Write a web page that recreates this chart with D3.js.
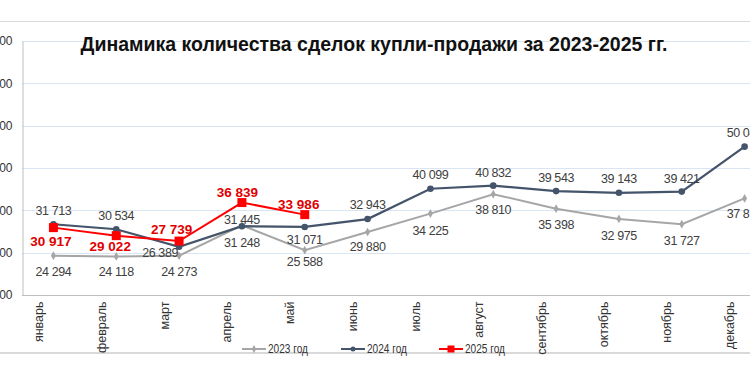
<!DOCTYPE html>
<html><head><meta charset="utf-8">
<script src="https://cdn.jsdelivr.net/npm/d3@7"></script>
<style>
html,body{margin:0;padding:0;background:#fff;overflow:hidden;}
svg{display:block;font-family:"Liberation Sans",Arial,sans-serif;}
</style></head>
<body>
<svg id="chart" width="750" height="375"></svg>
<script>
// ---- data ----
const months = ["январь","февраль","март","апрель","май","июнь","июль","август","сентябрь","октябрь","ноябрь","декабрь"];
const values2023 = [24294,24118,24273,31445,25588,29880,34225,38810,35398,32975,31727,37815];
const values2024 = [31713,30534,26389,31248,31071,32943,40099,40832,39543,39143,39421,50045];
const values2025 = [30917,29022,27739,36839,33986];
const yTicks = [15000,25000,35000,45000,55000,65000,75000];
const seriesNames = ["2023 год","2024 год","2025 год"];
const title = "Динамика количества сделок купли-продажи за 2023-2025 гг.";

// label placement (layout only)
const dy2023 = [16,16,16,-5.5,11.5,15,17,16,16,17,16.5,16];
const dy2024 = [-13.5,-13,6.5,16.5,13,-14,-14,-13,-13.5,-14,-13,-14];
const dx2024 = [0,0,-19,0,0,0,0,0,0,0,0,0];
const dy2025 = [14,11,-12,-10,-10.5];
const dx2025 = [-2.5,-6,-7.5,-4.5,-6];

const svg = d3.select("#chart");
const fmt = v => d3.format(",")(v).replace(/,/g, "\u00a0");

// frame lines
svg.append("line").attr("x1",0).attr("x2",750).attr("y1",21.5).attr("y2",21.5).attr("stroke","#d9d9d9").attr("stroke-width",1);
svg.append("line").attr("x1",0).attr("x2",750).attr("y1",353).attr("y2",353).attr("stroke","#d9d9d9").attr("stroke-width",2);

const x = d3.scalePoint().domain(months).range([22,776]).padding(0.5);
const y = d3.scaleLinear().domain([15000,75000]).range([295,41]);

// gridlines
svg.append("g").selectAll("line").data(yTicks.slice(1)).join("line")
  .attr("x1",22).attr("x2",776).attr("y1",d=>Math.round(y(d))+0.5).attr("y2",d=>Math.round(y(d))+0.5)
  .attr("stroke","#dae5f3").attr("stroke-width",1);

// y axis
const yAxis = d3.axisLeft(y).tickValues(yTicks).tickSize(0).tickPadding(10).tickFormat(fmt);
const gy = svg.append("g").attr("transform","translate(22.5,0)").call(yAxis);
gy.select(".domain").attr("stroke","#bfbfbf");
gy.selectAll("text").attr("font-size",12).attr("fill","#333").attr("font-family","Liberation Sans, Arial, sans-serif");

// x axis
const xAxis = d3.axisBottom(x).tickSize(0).tickSizeOuter(0);
const gx = svg.append("g").attr("transform","translate(0,295.5)").call(xAxis);
gx.select(".domain").attr("stroke","#bfbfbf").attr("d","M22,0H776");
gx.selectAll("text")
  .attr("font-size",12.5).attr("fill","#333").attr("font-family","Liberation Sans, Arial, sans-serif")
  .attr("text-anchor","end").attr("dominant-baseline","central")
  .attr("x",0).attr("y",0).attr("dy",null)
  .attr("transform","translate(-15,6) rotate(-90)");

// title
svg.append("text").attr("x",374).attr("y",51).attr("text-anchor","middle")
  .attr("font-size",19.5).attr("font-weight","bold").attr("fill","#111").text(title);

const line = d3.line().x((d,i)=>x(months[i])).y(d=>y(d));

// 2023
svg.append("path").datum(values2023).attr("d",line).attr("fill","none").attr("stroke","#a6a6a6").attr("stroke-width",2);
svg.append("g").selectAll("path").data(values2023).join("path")
  .attr("d",d3.symbol(d3.symbolDiamond,22))
  .attr("transform",(d,i)=>`translate(${x(months[i])},${y(d)})`).attr("fill","#a6a6a6");
// 2024
svg.append("path").datum(values2024).attr("d",line).attr("fill","none").attr("stroke","#44546a").attr("stroke-width",2.25);
svg.append("g").selectAll("circle").data(values2024).join("circle")
  .attr("cx",(d,i)=>x(months[i])).attr("cy",d=>y(d)).attr("r",3.3).attr("fill","#44546a");
// 2025
svg.append("path").datum(values2025).attr("d",line).attr("fill","none").attr("stroke","#ff0000").attr("stroke-width",2);
svg.append("g").selectAll("rect").data(values2025).join("rect")
  .attr("x",(d,i)=>x(months[i])-4.5).attr("y",d=>y(d)-4.5).attr("width",9).attr("height",9).attr("fill","#ff0000");

// labels
const lab = svg.append("g").attr("text-anchor","middle").attr("dominant-baseline","central");
lab.selectAll(".l23").data(values2023).join("text").attr("class","l23")
  .attr("font-size",12.5).attr("letter-spacing",-0.4)
  .attr("x",(d,i)=>x(months[i])).attr("y",(d,i)=>y(d)+dy2023[i]).attr("fill","#404040").text(fmt);
lab.selectAll(".l24").data(values2024).join("text").attr("class","l24")
  .attr("font-size",12.5).attr("letter-spacing",-0.4)
  .attr("x",(d,i)=>x(months[i])+dx2024[i]).attr("y",(d,i)=>y(d)+dy2024[i]).attr("fill","#404040").text(fmt);
lab.selectAll(".l25").data(values2025).join("text").attr("class","l25")
  .attr("font-size",13.5)
  .attr("x",(d,i)=>x(months[i])+dx2025[i]).attr("y",(d,i)=>y(d)+dy2025[i])
  .attr("fill","#e00000").attr("font-weight","bold").text(fmt);

// legend
const legX = [242,341,439];
const legColors = ["#a6a6a6","#44546a","#ff0000"];
const leg = svg.append("g").attr("transform","translate(0,349)");
seriesNames.forEach((name,i)=>{
  const g = leg.append("g").attr("transform",`translate(${legX[i]},0)`);
  g.append("line").attr("x1",0).attr("x2",24).attr("stroke",legColors[i]).attr("stroke-width",2);
  if(i===0) g.append("path").attr("d",d3.symbol(d3.symbolDiamond,18)).attr("transform","translate(12,0)").attr("fill",legColors[i]);
  if(i===1) g.append("circle").attr("cx",12).attr("r",2.5).attr("fill",legColors[i]);
  if(i===2) g.append("rect").attr("x",8.5).attr("y",-3.5).attr("width",7).attr("height",7).attr("fill",legColors[i]);
  g.append("text").attr("x",26).attr("dominant-baseline","central")
    .attr("font-size",12.5).attr("fill","#333")
    .attr("textLength",40).attr("lengthAdjust","spacingAndGlyphs").text(name);
});
</script>
</body></html>
